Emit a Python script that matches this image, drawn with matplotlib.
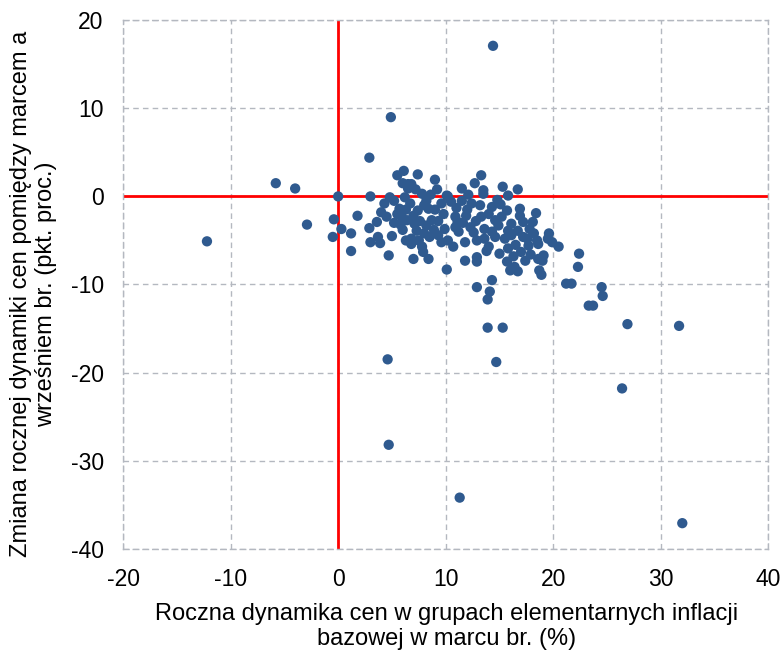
import matplotlib
matplotlib.use("Agg")
import matplotlib.pyplot as plt

plt.rcParams['font.family'] = ['Liberation Sans', 'DejaVu Sans']
plt.rcParams['axes.unicode_minus'] = False

# Annual core-inflation price dynamics in March (x) vs change of annual dynamics March->September (y)
march_dynamics = [
    -12.2, -5.8, -4.0, -2.9, -0.5, 0.0, -0.4, 0.3, 1.2, 1.2, 1.8, 2.9, 3.0, 4.9, 14.4,
    4.6, 4.7, 11.3, 14.7, 13.9, 15.3, 13.9, 12.9, 14.1, 14.3, 10.1, 21.2, 21.7, 22.3,
    22.4, 23.3, 23.7, 24.5, 24.6, 26.9, 31.7, 26.4, 32.0, 20.5, 19.6, 19.5, 19.1, 19.0,
    18.7, 18.9,
    2.9, 3.6, 4.0, 4.3, 4.8, 3.0, 3.7, 3.9, 4.7, 5.7, 5.5, 6.1, 7.4, 6.0, 6.5, 6.2,
    6.7, 5.9, 6.4, 6.0, 6.8, 6.8, 7.0, 7.8, 8.4, 7.3, 7.8, 8.2, 8.4, 8.7, 8.2, 8.5,
    9.0, 9.2, 10.1, 9.6, 9.8, 9.9, 9.6, 10.7, 7.1, 7.4, 6.8, 6.5,
    5.2, 5.5, 5.2, 6.3, 7.0, 7.6, 8.0, 7.5, 8.9, 9.3, 8.0, 9.0, 9.3, 5.0, 4.5, 7.9,
    6.3, 5.8, 7.2, 8.6,
    13.3, 12.7, 11.5, 13.5, 13.5, 15.3, 16.7, 15.8, 14.8, 14.3, 15.7, 16.9, 18.4,
    10.2, 10.5, 11.5, 12.4, 13.2, 10.9, 11.9, 13.3, 14.6, 15.2, 10.9, 12.3, 13.6,
    16.1, 17.2, 18.1, 11.2, 12.6, 14.3, 15.8, 16.7, 17.8, 10.2, 11.8, 12.9, 13.6,
    14.6, 16.1, 17.2, 18.5, 15.8, 17.7, 18.6, 11.8, 12.9, 12.9, 15.7, 16.4, 17.4,
    18.6, 16.0, 16.7, 14.0,
    11.0, 12.0, 12.8, 11.6, 14.0, 14.9, 15.5, 16.5, 17.0, 15.0, 13.8, 16.9, 17.6,
    18.2, 15.1, 12.1, 11.1, 17.9, 16.3, 19.9,
]
change_dynamics = [
    -5.1, 1.5, 0.9, -3.2, -4.6, 0.0, -2.6, -3.7, -4.2, -6.2, -2.2, 4.4, 0.0, 9.0, 17.1,
    -18.5, -28.2, -34.2, -18.8, -14.9, -14.9, -11.7, -10.3, -10.8, -9.5, -8.3, -9.9,
    -9.9, -8.0, -6.5, -12.4, -12.4, -10.3, -11.3, -14.5, -14.7, -21.8, -37.1, -5.7,
    -4.2, -4.8, -6.7, -7.3, -8.4, -8.9,
    -3.6, -2.9, -1.8, -0.8, -0.1, -5.2, -4.6, -5.3, -6.7, -1.4, 2.4, 2.9, 2.5, 1.5,
    1.4, -0.1, -0.8, -2.3, -2.7, -3.8, -4.8, -5.4, -7.1, -5.7, -7.1, -3.9, 0.3, -0.5,
    -1.4, -2.7, -3.3, -4.6, 1.9, 0.8, 0.1, -0.8, -2.0, -3.7, -5.2, -5.7, -3.1, -1.6,
    1.4, 0.9,
    -0.5, -2.0, -3.0, -1.5, -2.2, -2.8, -4.2, -5.0, -3.8, -4.4, -1.0, -1.5, -2.8,
    -4.5, -2.3, -6.3, -5.0, -3.2, 0.8, 0.2,
    2.4, 1.5, 0.9, 0.7, 0.3, 1.1, 0.8, 0.1, -0.4, -1.2, -1.6, -1.4, -1.9,
    0.0, -0.6, -0.5, -0.8, -1.0, -2.3, -2.2, -2.3, -2.7, -2.3, -3.5, -3.5, -3.7,
    -3.1, -2.9, -2.9, -4.0, -4.1, -4.0, -3.9, -3.9, -3.7, -5.0, -5.2, -5.0, -4.8,
    -4.6, -4.4, -4.6, -5.0, -5.9, -5.6, -5.4, -7.3, -6.9, -7.4, -7.4, -8.0, -7.3,
    -7.1, -8.4, -8.5, -5.7,
    -1.3, -1.5, -2.8, -3.0, -2.0, -3.3, -4.8, -5.5, -6.3, -6.5, -6.2, -2.2, -4.8,
    -4.2, -0.9, 0.2, -2.9, -6.6, -6.8, -5.2,
]

x_ticks = [-20, -10, 0, 10, 20, 30, 40]
y_ticks = [-40, -30, -20, -10, 0, 10, 20]

fig = plt.figure(figsize=(7.84, 6.54), dpi=100)
ax = fig.add_axes([0.157, 0.161, 0.823, 0.808])

ax.set_xlim(-20, 40)
ax.set_ylim(-40, 20)
ax.set_xticks(x_ticks)
ax.set_yticks(y_ticks)
ax.tick_params(length=0, labelsize=16.5, pad=14)

grid_color = '#b4b8c0'
ax.grid(True, color=grid_color, linestyle=(0, (4, 3)), linewidth=1)
for side in ax.spines.values():
    side.set_color(grid_color)
    side.set_linestyle((0, (4, 3)))
    side.set_linewidth(1)

ax.axhline(0, color='#ff0000', linewidth=2, zorder=2)
ax.axvline(0, color='#ff0000', linewidth=2, zorder=2)

ax.scatter(march_dynamics, change_dynamics, s=55, color='#2f5a8f',
           edgecolors='none', zorder=3)

fig.text(0.570, 0.042,
         "Roczna dynamika cen w grupach elementarnych inflacji\nbazowej w marcu br. (%)",
         fontsize=17, ha='center', va='center', multialignment='center', linespacing=1.15)
fig.text(0.043, 0.55,
         "Zmiana rocznej dynamiki cen pomiędzy marcem a\nwrześniem br. (pkt. proc.)",
         fontsize=17, ha='center', va='center', multialignment='center',
         rotation=90, linespacing=1.15)

fig.savefig("out.png", dpi=100, facecolor='white')
